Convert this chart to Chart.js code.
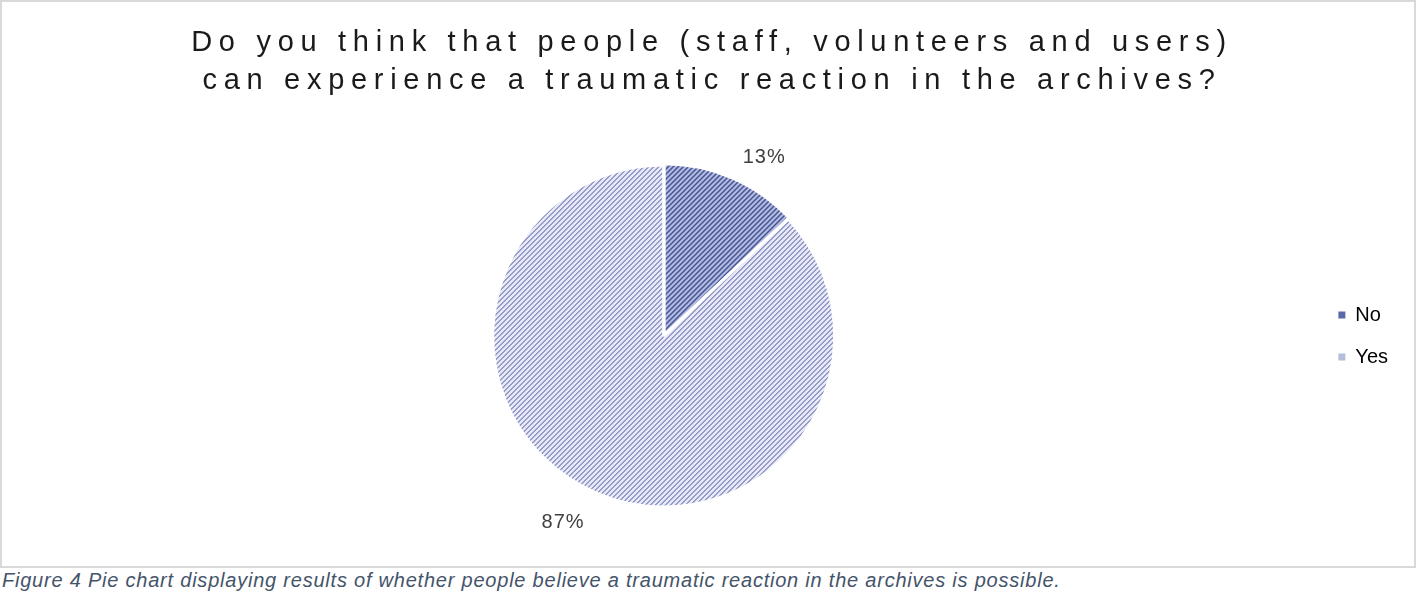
<!DOCTYPE html>
<html>
<head>
<meta charset="utf-8">
<script src="https://cdn.jsdelivr.net/npm/chart.js@4"></script>
<style>
  html, body { margin: 0; padding: 0; background: #fff; }
  body { width: 1418px; height: 594px; position: relative; overflow: hidden; }
  #frame { position: absolute; left: 0; top: 0; width: 1412px; height: 564px; border: 2px solid #d9d9d9; }
  #frame canvas { display: block; }
  #caption { position: absolute; left: 2px; top: 569px; font: italic 20px "Liberation Sans", Arial, sans-serif; letter-spacing: 0.78px; color: #44546a; line-height: 22px; white-space: nowrap; }
</style>
</head>
<body>
<div id="frame"><canvas id="c" width="1412" height="564"></canvas></div>
<div id="caption">Figure 4 Pie chart displaying results of whether people believe a traumatic reaction in the archives is possible.</div>
<script>
const titleLines = ["Do you think that people (staff, volunteers and users)", "can experience a traumatic reaction in the archives?"];
const categories = ["No", "Yes"];
const values = [13, 87];
const baseColors = ["#5b6aa8", "#b6bcdc"];
const stripeColors = ["#3f4d8e", "#959cc8"];
const bgColors = ["#b6bfe3", "#e7e9f6"];

function makePattern(bg, fg) {
  const size = 5;
  const c = document.createElement('canvas');
  c.width = size; c.height = size;
  const x = c.getContext('2d');
  x.fillStyle = bg; x.fillRect(0, 0, size, size);
  x.fillStyle = fg;
  for (let i = 0; i < size; i++) {
    for (let j = 0; j < size; j++) {
      if ((i + j) % size < 2) x.fillRect(i, j, 1, 1);
    }
  }
  return x.createPattern(c, 'repeat');
}
const patterns = categories.map((_, i) => makePattern(bgColors[i], stripeColors[i]));

const TITLE_SPACING = 6.7;
const TITLE_SHIFT = 7.5;
const spacingPlugin = {
  id: 'titleSpacing',
  beforeLayout(chart) {
    const tb = chart.titleBlock;
    if (tb && !tb._wrapped) {
      const orig = tb.draw.bind(tb);
      tb.draw = function () {
        const ctx = chart.ctx;
        ctx.save();
        ctx.translate(TITLE_SHIFT, 0);
        ctx.letterSpacing = TITLE_SPACING + 'px';
        orig();
        ctx.restore();
        ctx.letterSpacing = '0px';
      };
      tb._wrapped = true;
    }
  }
};

const labelPlugin = {
  id: 'outLabels',
  afterDatasetsDraw(chart) {
    const ctx = chart.ctx;
    const meta = chart.getDatasetMeta(0);
    const total = values.reduce((a, b) => a + b, 0);
    ctx.save();
    ctx.font = '20px "Liberation Sans", Arial, sans-serif';
    ctx.letterSpacing = '1px';
    ctx.fillStyle = '#404040';
    ctx.textAlign = 'center';
    ctx.textBaseline = 'middle';
    meta.data.forEach((arc, i) => {
      const p = arc.getProps(['x', 'y', 'startAngle', 'endAngle', 'outerRadius'], true);
      const mid = (p.startAngle + p.endAngle) / 2;
      const r = p.outerRadius + 28;
      const txt = Math.round(values[i] / total * 100) + '%';
      const w = ctx.measureText(txt).width;
      const dx = Math.cos(mid), dy = Math.sin(mid);
      const x = p.x + r * dx + Math.sign(dx) * w / 2;
      const y = p.y + r * dy + 4;
      ctx.fillText(txt, x, y);
    });
    ctx.restore();
  }
};

new Chart(document.getElementById('c'), {
  type: 'pie',
  data: {
    labels: categories,
    datasets: [{
      data: values,
      backgroundColor: patterns,
      borderColor: '#ffffff',
      borderWidth: 3,
      offset: [4, 0],
      hoverOffset: 0
    }]
  },
  options: {
    responsive: false,
    animation: false,
    events: [],
    layout: { padding: { left: 9, right: 16, top: 0, bottom: 55.5 } },
    plugins: {
      title: {
        display: true,
        text: titleLines,
        color: '#1a1a1a',
        font: { family: '"Liberation Sans", Arial, sans-serif', size: 29, weight: 'normal', lineHeight: 1.31 },
        padding: { top: 22, bottom: 61.5 }
      },
      legend: {
        position: 'right',
        fullSize: false,
        labels: {
          color: '#222222',
          font: { family: '"Liberation Sans", Arial, sans-serif', size: 20 },
          boxWidth: 7,
          boxHeight: 7,
          padding: 22,
          generateLabels(chart) {
            return categories.map((c, i) => ({
              text: c, fillStyle: baseColors[i], strokeStyle: baseColors[i], lineWidth: 0, index: i, datasetIndex: 0, hidden: false
            }));
          }
        }
      },
      tooltip: { enabled: false }
    }
  },
  plugins: [spacingPlugin, labelPlugin]
});
</script>
</body>
</html>
